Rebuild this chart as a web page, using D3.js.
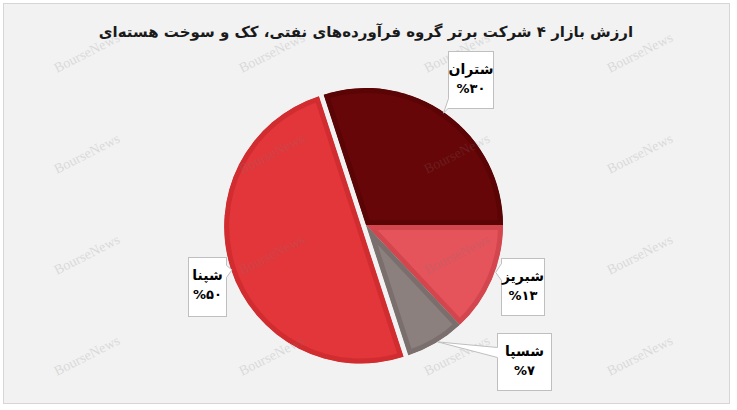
<!DOCTYPE html>
<html><head><meta charset="utf-8">
<script src="https://cdn.jsdelivr.net/npm/d3@7"></script>
<style>html,body{margin:0;padding:0;background:#fff;}svg{display:block;}</style>
</head><body>
<svg id="chart" width="737" height="410"></svg>
<script>
const title = "ارزش بازار ۴ شرکت برتر گروه فرآورده‌های نفتی، کک و سوخت هسته‌ای";
const categories = ["شتران", "شبریز", "شسپا", "شپنا"];
const values = [30, 13, 7, 50];
const percentLabels = ["%۳۰", "%۱۳", "%۷", "%۵۰"];
const fillColors = ["#670608", "#e5535b", "#8c807e", "#e3363a"];
const borderColors = ["#5a0406", "#d4464e", "#7a6f6d", "#d12d31"];
const explodeOffsets = [0, 0, 0, 5];
const watermarkCols = [57, 242, 427, 610];
const watermarkRows = [73, 174, 275, 376];

const svg = d3.select("#chart");
const cx = 366, cy = 225, R = 137;

// frame
svg.append("rect").attr("x", 3.5).attr("y", 3.5).attr("width", 726).attr("height", 400)
  .attr("fill", "#f2f2f2").attr("stroke", "#d6d6d6").attr("stroke-width", 1);

// title
svg.append("text").attr("x", 366).attr("y", 37).attr("text-anchor", "middle")
  .attr("direction", "rtl")
  .style("font-family", "'DejaVu Sans', sans-serif").style("font-weight", "bold")
  .style("font-size", "15px").attr("fill", "#1a1a1a").text(title);

const pie = d3.pie().sort(null).value(d => d)
  .startAngle(-0.1 * Math.PI).endAngle(1.9 * Math.PI);
const arcs = pie(values);
const arc = d3.arc().innerRadius(0).outerRadius(R);
const defs = svg.append("defs");

const sliceCenters = arcs.map((a, i) => {
  const mid = (a.startAngle + a.endAngle) / 2;
  const off = explodeOffsets[i];
  return [cx + off * Math.sin(mid), cy - off * Math.cos(mid), mid];
});

const sliceG = svg.append("g");
arcs.forEach((a, i) => {
  const [sx, sy] = sliceCenters[i];
  const id = "clip" + i;
  defs.append("clipPath").attr("id", id).append("path").attr("d", arc(a));
  sliceG.append("g").attr("transform", `translate(${sx},${sy})`)
    .append("path").attr("d", arc(a))
    .attr("fill", fillColors[i]).attr("stroke", borderColors[i])
    .attr("stroke-width", 10).attr("stroke-linejoin", "miter")
    .attr("clip-path", `url(#${id})`);
});

// watermarks
const wm = svg.append("g");
watermarkRows.forEach(y => watermarkCols.forEach(x => {
  wm.append("text").attr("transform", `translate(${x},${y}) rotate(-27)`)
    .style("font-family", "'Liberation Serif', serif").style("font-size", "14px")
    .attr("fill", "#7a7a7a").attr("opacity", 0.2).text("BourseNews");
}));

// label callouts: box offsets relative to edge anchor
const boxSpecs = [
  {dx: 1, dy: -63, w: 45, h: 57, side: "left", b1: 47, b2: 56.5, tdx: -3, tdy: -1},
  {dx: 9, dy: -21, w: 43, h: 57, side: "left", b1: 5, b2: 22, tdx: 4, tdy: -7},
  {dx: 61, dy: -10, w: 54, h: 57, side: "left", b1: 14, b2: 24, tdx: 2, tdy: -1},
  {dx: -43, dy: -12, w: 38, h: 59, side: "right", b1: 8, b2: 20, tdx: 1, tdy: 1}
];
const labG = svg.append("g");
arcs.forEach((a, i) => {
  const [sx, sy, mid] = sliceCenters[i];
  const ax = sx + R * Math.sin(mid), ay = sy - R * Math.cos(mid);
  const s = boxSpecs[i];
  const bx = Math.round(ax + s.dx) + 0.5, by = Math.round(ay + s.dy) + 0.5;
  labG.append("rect").attr("x", bx).attr("y", by).attr("width", s.w).attr("height", s.h)
    .attr("fill", "#ffffff").attr("stroke", "#bfbfbf").attr("stroke-width", 1);
  const ex = s.side === "left" ? bx : bx + s.w;
  const inner = s.side === "left" ? 1 : -1;
  const tx = ax + s.tdx, ty = ay + s.tdy;
  labG.append("path")
    .attr("d", `M${ex + inner},${by + s.b1}L${ex},${by + s.b1}L${tx},${ty}L${ex},${by + s.b2}L${ex + inner},${by + s.b2}Z`)
    .attr("fill", "#ffffff").attr("stroke", "none");
  labG.append("path")
    .attr("d", `M${ex},${by + s.b1}L${tx},${ty}L${ex},${by + s.b2}`)
    .attr("fill", "none").attr("stroke", "#bfbfbf").attr("stroke-width", 1);
  const mx = bx + s.w / 2;
  labG.append("text").attr("x", mx).attr("y", by + 22).attr("text-anchor", "middle")
    .style("font-family", "'DejaVu Sans', sans-serif").style("font-weight", "bold")
    .style("font-size", "14px").attr("fill", "#000").text(categories[i]);
  labG.append("text").attr("x", mx).attr("y", by + 41).attr("text-anchor", "middle")
    .style("font-family", "'DejaVu Sans', sans-serif").style("font-weight", "bold")
    .style("font-size", "13px").attr("fill", "#000").text(percentLabels[i]);
});
</script>
</body></html>
